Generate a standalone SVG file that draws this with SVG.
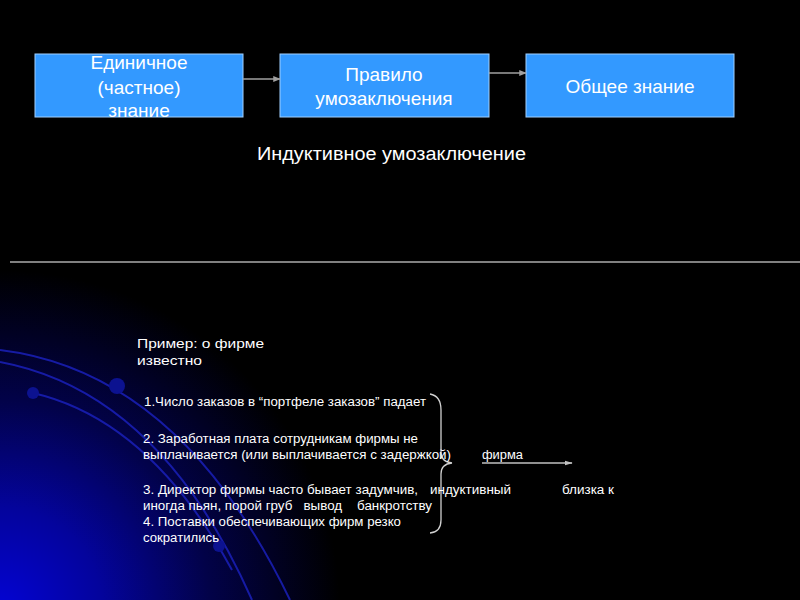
<svg xmlns="http://www.w3.org/2000/svg" width="800" height="600" viewBox="0 0 800 600">
<defs>
<radialGradient id="bg" cx="0" cy="610" r="340" gradientUnits="userSpaceOnUse">
<stop offset="0" stop-color="#0404d4"/>
<stop offset="0.3" stop-color="#04049c"/>
<stop offset="0.62" stop-color="#020248"/>
<stop offset="1" stop-color="#000000"/>
</radialGradient>
<marker id="ah" viewBox="0 0 10 10" refX="9" refY="5" markerWidth="5" markerHeight="5" orient="auto"><path d="M0,1 L10,5 L0,9 z" fill="#a0a0a0"/></marker>
<marker id="ah2" viewBox="0 0 10 10" refX="9" refY="5" markerWidth="6" markerHeight="6" orient="auto"><path d="M0,2 L10,5 L0,8 z" fill="#c0c0c0"/></marker>
<style>
.box{fill:#3399ff;stroke:#9fcfff;stroke-width:1}
.bt{font-family:"Liberation Sans",Arial,sans-serif;font-size:19px;fill:#ffffff;text-anchor:middle}
.t{font-family:"Liberation Sans",Arial,sans-serif;font-size:12.5px;fill:#ffffff}
.conn{stroke:#a0a0a0;stroke-width:1.5;fill:none}
.arc{stroke:#1a20b8;stroke-width:2;fill:none;opacity:0.85}
</style>
</defs>
<rect width="800" height="600" fill="#000"/>
<rect x="0" y="260" width="360" height="340" fill="url(#bg)"/>
<g id="decor">
<path class="arc" d="M0,350 Q180,372 290,600"/>
<path class="arc" d="M0,362 Q160,392 252,600"/>
<path class="arc" d="M33,393 Q150,420 232,570"/>
<circle cx="117" cy="386" r="8" fill="#0c1290"/>
<circle cx="33" cy="393" r="6" fill="#0c1290"/>
<circle cx="219" cy="546" r="6" fill="#0c1290"/>
</g>
<line x1="10" y1="262" x2="800" y2="262" stroke="#808080" stroke-width="2"/>
<g id="n1"><rect class="box" x="35" y="54" width="208" height="63"/>
<text class="bt"><tspan x="139" y="69">Единичное</tspan><tspan x="139" y="94">(частное)</tspan><tspan x="139" y="117">знание</tspan></text></g>
<g id="n2"><rect class="box" x="280" y="54" width="209" height="63"/>
<text class="bt"><tspan x="384" y="81">Правило</tspan><tspan x="384" y="105">умозаключения</tspan></text></g>
<g id="n3"><rect class="box" x="526" y="54" width="208" height="63"/>
<text class="bt" x="630" y="93">Общее знание</text></g>
<g id="connectors">
<line class="conn" x1="243" y1="79" x2="280" y2="79" marker-end="url(#ah)"/>
<line class="conn" x1="489" y1="73" x2="526" y2="73" marker-end="url(#ah)"/>
<line x1="482" y1="463" x2="572" y2="463" stroke="#c0c0c0" stroke-width="1.3" marker-end="url(#ah2)"/>
<path d="M430,394 Q441,396 441,410 L441,452 Q441,462 452,463 Q441,464 441,474 L441,520 Q441,532 430,533" stroke="#d0d0d0" stroke-width="1.3" fill="none"/>
</g>
<text x="257" y="160" font-family="Liberation Sans,Arial,sans-serif" font-size="18" fill="#fff" textLength="269" lengthAdjust="spacingAndGlyphs">Индуктивное умозаключение</text>
<g id="example">
<text class="t" font-size="15" x="137" y="348" textLength="127" lengthAdjust="spacingAndGlyphs">Пример: о фирме</text>
<text class="t" font-size="15" x="137" y="365" textLength="65" lengthAdjust="spacingAndGlyphs">известно</text>
<text class="t" x="144" y="406" textLength="282" lengthAdjust="spacingAndGlyphs">1.Число заказов в “портфеле заказов” падает</text>
<text class="t" x="143" y="443" textLength="275" lengthAdjust="spacingAndGlyphs">2. Заработная плата сотрудникам фирмы не</text>
<text class="t" x="143" y="459" textLength="308" lengthAdjust="spacingAndGlyphs">выплачивается (или выплачивается с задержкой)</text>
<text class="t" x="482" y="459" textLength="41" lengthAdjust="spacingAndGlyphs">фирма</text>
<text class="t" x="143" y="494" textLength="275" lengthAdjust="spacingAndGlyphs">3. Директор фирмы часто бывает задумчив,</text>
<text class="t" x="430" y="494" textLength="81" lengthAdjust="spacingAndGlyphs">индуктивный</text>
<text class="t" x="562" y="494" textLength="52" lengthAdjust="spacingAndGlyphs">близка к</text>
<text class="t" x="143" y="510" xml:space="preserve" textLength="289" lengthAdjust="spacingAndGlyphs">иногда пьян, порой груб   вывод    банкротству</text>
<text class="t" x="143" y="526" textLength="258" lengthAdjust="spacingAndGlyphs">4. Поставки обеспечивающих фирм резко</text>
<text class="t" x="143" y="542" textLength="76" lengthAdjust="spacingAndGlyphs">сократились</text>
</g>
</svg>
